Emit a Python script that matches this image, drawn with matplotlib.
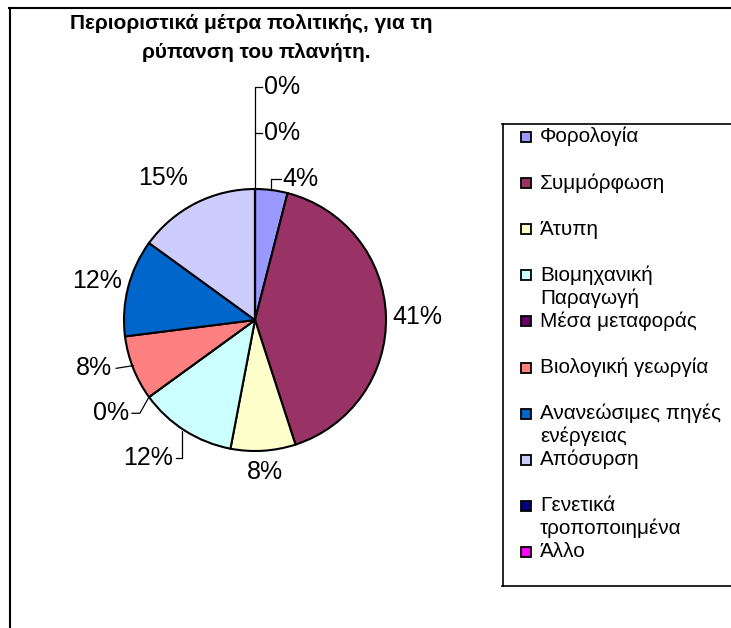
import numpy as np
import matplotlib
matplotlib.use("Agg")
import matplotlib.pyplot as plt
from matplotlib.patches import Rectangle
from matplotlib.lines import Line2D

plt.rcParams['font.family'] = ['Liberation Sans', 'DejaVu Sans']

categories = ["Φορολογία", "Συμμόρφωση", "Άτυπη", "Βιομηχανική\nΠαραγωγή",
              "Μέσα μεταφοράς", "Βιολογική γεωργία", "Ανανεώσιμες πηγές\nενέργειας",
              "Απόσυρση", "Γενετικά\nτροποποιημένα", "Άλλο"]
values = [4, 41, 8, 12, 0, 8, 12, 15, 0, 0]
colors = ["#9999FF", "#993366", "#FFFFCC", "#CCFFFF", "#660066",
          "#FF8080", "#0066CC", "#CCCCFF", "#000080", "#FF00FF"]
title_lines = ["Περιοριστικά μέτρα πολιτικής, για τη", "ρύπανση του πλανήτη."]

W, H = 731, 628
fig = plt.figure(figsize=(W / 100, H / 100), dpi=100)
ax = fig.add_axes([0, 0, 1, 1])

# pie geometry in pixels
cx, cy, R = 255, 320, 131

wedges, _ = ax.pie(values, colors=colors, startangle=90, counterclock=False,
                   radius=1, wedgeprops=dict(edgecolor="black", linewidth=1.5))
ax.set_aspect('auto')
ax.set_xlim(-cx / R, (W - cx) / R)
ax.set_ylim(-(H - cy) / R, cy / R)
ax.axis('off')

def mid(w):
    a = np.deg2rad((w.theta1 + w.theta2) / 2)
    return np.cos(a), np.sin(a)

fs = 18
lw_lead = 0.9
labels = [f"{v}%" for v in values]

def txt(x, y, s, ha):
    ax.text(x, y, s, ha=ha, va='center', fontsize=fs)

# 0: Φορολογία
mx, my = mid(wedges[0])
ax.plot([mx, mx, mx + 0.075], [my, 1.076, 1.076], color='black', lw=lw_lead)
txt(mx + 0.085, 1.076, labels[0], 'left')
# 1: Συμμόρφωση
mx, my = mid(wedges[1])
txt(mx * 1.05, my * 1.05 - 0.01, labels[1], 'left')
# 2: Άτυπη
mx, my = mid(wedges[2])
txt(mx * 1.16, my * 1.16, labels[2], 'center')
# 3: Βιομηχανική
mx, my = mid(wedges[3])
ax.plot([mx - 0.02, mx - 0.02, mx - 0.07], [my, -1.053, -1.053], color='black', lw=lw_lead)
txt(mx - 0.09, -1.053, labels[3], 'right')
# 4: Μέσα μεταφοράς
mx, my = mid(wedges[4])
ax.plot([mx, mx - 0.07, mx - 0.13], [my, -0.712, -0.712], color='black', lw=lw_lead)
txt(mx - 0.155, -0.712, labels[4], 'right')
# 5: Βιολογική
mx, my = mid(wedges[5])
ax.plot([mx, mx - 0.13], [my + 0.02, -0.369], color='black', lw=lw_lead)
txt(mx - 0.16, -0.369, labels[5], 'right')
# 6: Ανανεώσιμες
mx, my = mid(wedges[6])
txt(mx * 1.05, my * 1.2, labels[6], 'right')
# 7: Απόσυρση
mx, my = mid(wedges[7])
txt(mx * 1.55, my * 1.215, labels[7], 'center')
# 8, 9: zero slices at top
mx, my = mid(wedges[8])
ax.plot([mx, mx, mx + 0.055], [my, 1.779, 1.779], color='black', lw=lw_lead)
ax.plot([mx, mx + 0.055], [1.427, 1.427], color='black', lw=lw_lead)
txt(mx + 0.065, 1.427, labels[8], 'left')
txt(mx + 0.065, 1.779, labels[9], 'left')

def fx(x):
    return x / W
def fy(y):
    return 1 - y / H

# outer border
fig.add_artist(Line2D([fx(9.5), fx(9.5)], [fy(7.5), fy(H + 5)], color='black', lw=1.5))
fig.add_artist(Line2D([fx(9), fx(W + 5)], [fy(7.5), fy(7.5)], color='black', lw=1.5))

# title
fig.text(fx(251), fy(23), title_lines[0], ha='center', va='center', fontsize=15, fontweight='bold')
fig.text(fx(256), fy(53), title_lines[1], ha='center', va='center', fontsize=15, fontweight='bold')

# legend box
fig.add_artist(Line2D([fx(502.5), fx(502.5)], [fy(124), fy(586)], color='black', lw=1.2))
fig.add_artist(Line2D([fx(502), fx(W + 5)], [fy(124), fy(124)], color='black', lw=1.2))
fig.add_artist(Line2D([fx(502), fx(W + 5)], [fy(586), fy(586)], color='black', lw=1.2))

step = 46.1
for i, (name, col) in enumerate(zip(categories, colors)):
    ytop = 132 + i * step
    fig.add_artist(Rectangle((fx(521), fy(ytop + 10)), 10 / W, 10 / H,
                             facecolor=col, edgecolor='black', lw=1.3))
    for j, line in enumerate(name.split("\n")):
        fig.text(fx(540), fy(ytop + 10.5 + j * 23), line, ha='left', va='baseline',
                 fontsize=14.9)

fig.savefig("out.png", dpi=100)
